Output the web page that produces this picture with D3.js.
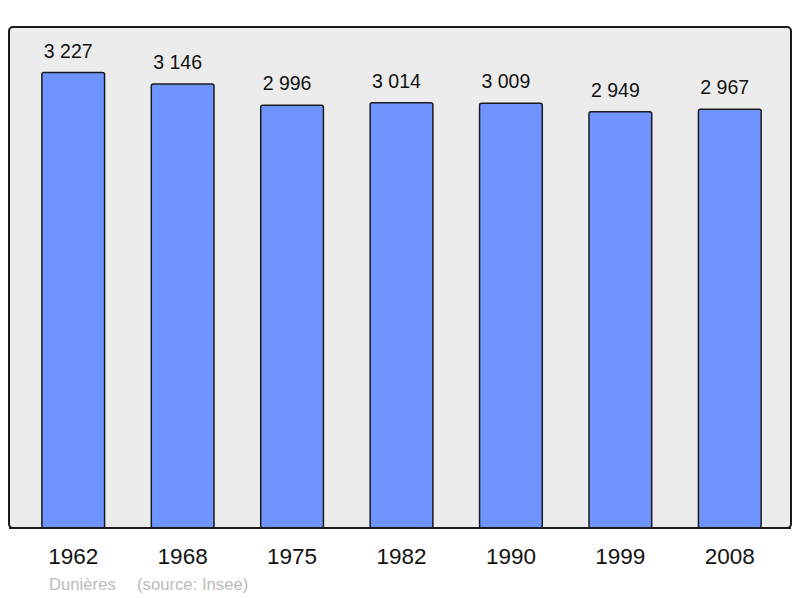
<!DOCTYPE html>
<html>
<head>
<meta charset="utf-8">
<script src="https://cdn.jsdelivr.net/npm/d3@7"></script>
<style>
  html, body { margin: 0; padding: 0; background: #fff; }
  svg { display: block; font-family: "Liberation Sans", Arial, sans-serif; }
</style>
</head>
<body>
<svg id="chart" width="800" height="598"></svg>
<script>
const years = ['1962', '1968', '1975', '1982', '1990', '1999', '2008'];
const population = [3227, 3146, 2996, 3014, 3009, 2949, 2967];
const commune = 'Dunières';
const source = '(source: Insee)';

(function() {
  const svg = d3.select('#chart');
  const fx = 9, fy = 27, fw = 782, fh = 501;
  const bottom = fy + fh;

  const x = d3.scaleBand().domain(years).range([12, 791]).paddingInner(0.427).paddingOuter(0.273);
  const y = d3.scaleLinear().domain([0, 3550]).range([bottom, fy]);
  const fmt = v => d3.format(',')(v).replace(/,/g, ' ');

  // frame
  svg.append('rect').attr('x', fx).attr('y', fy).attr('width', fw).attr('height', fh)
    .attr('rx', 4).attr('fill', '#ececec').attr('stroke', '#1a1a1a').attr('stroke-width', 2);

  const data = years.map((yr, i) => ({ yr, v: population[i] }));

  svg.selectAll('.bar').data(data).join('rect').attr('class', 'bar')
    .attr('x', d => x(d.yr)).attr('y', d => y(d.v))
    .attr('width', x.bandwidth()).attr('height', d => bottom - y(d.v))
    .attr('rx', 2).attr('fill', '#7094ff').attr('stroke', '#1a1a1a').attr('stroke-width', 1.5);

  // frame bottom line over bars
  svg.append('line').attr('x1', fx).attr('x2', fx + fw).attr('y1', bottom).attr('y2', bottom)
    .attr('stroke', '#1a1a1a').attr('stroke-width', 2);

  svg.selectAll('.val').data(data).join('text').attr('class', 'val')
    .attr('x', d => x(d.yr) + x.bandwidth() / 2 - 5).attr('y', d => y(d.v) - 15)
    .attr('text-anchor', 'middle').style('font-size', '19.5px').style('fill', '#111')
    .text(d => fmt(d.v));

  svg.selectAll('.yr').data(years).join('text').attr('class', 'yr')
    .attr('x', d => x(d) + x.bandwidth() / 2).attr('y', 564)
    .attr('text-anchor', 'middle').style('font-size', '22.5px').style('fill', '#111')
    .text(d => d);

  svg.append('text').attr('x', 49).attr('y', 590).style('font-size', '16.7px').style('fill', '#bbb').text(commune);
  svg.append('text').attr('x', 137).attr('y', 590).style('font-size', '16.7px').style('fill', '#bbb').text(source);
})();
</script>
</body>
</html>
